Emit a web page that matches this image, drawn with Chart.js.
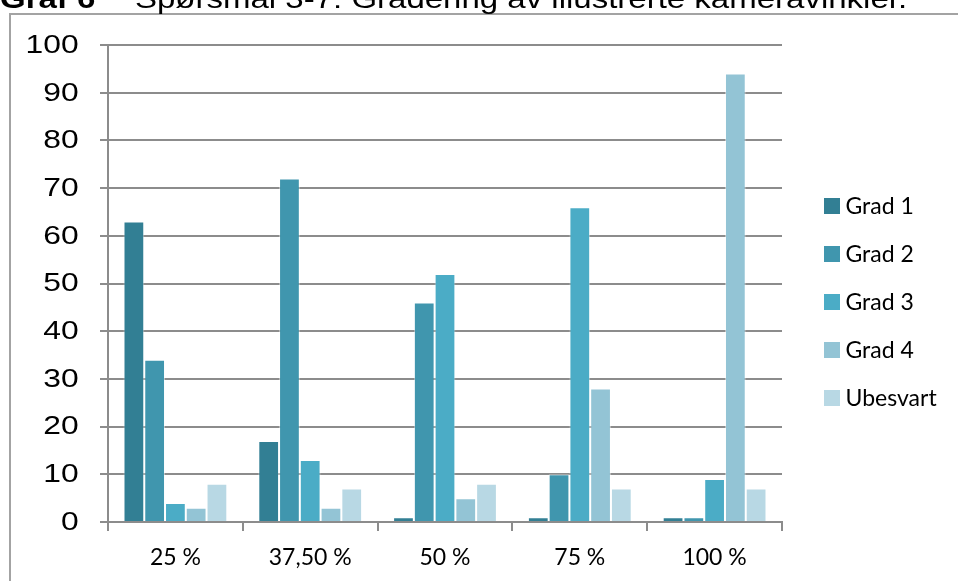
<!DOCTYPE html>
<html>
<head>
<meta charset="utf-8">
<script src="https://cdn.jsdelivr.net/npm/chart.js@4.4.1/dist/chart.umd.min.js"></script>
<style>
  html, body { margin: 0; padding: 0; background: #ffffff; overflow: hidden; }
  #wrap { position: relative; width: 958px; height: 581px; }
</style>
</head>
<body>
<div id="wrap"><canvas id="chart" width="958" height="581"></canvas></div>
<script>
// Camera-angle ratings per illustrated angle
const categories = ['25 %', '37,50 %', '50 %', '75 %', '100 %'];
const seriesNames = ['Grad 1', 'Grad 2', 'Grad 3', 'Grad 4', 'Ubesvart'];
const grad1    = [63, 17, 1, 1, 1];
const grad2    = [34, 72, 46, 10, 1];
const grad3    = [4, 13, 52, 66, 9];
const grad4    = [3, 3, 5, 28, 94];
const ubesvart = [8, 7, 8, 7, 7];
const yTickValues = [0, 10, 20, 30, 40, 50, 60, 70, 80, 90, 100];
const titleLead = 'Graf 6';
const titleText = 'Spørsmål 3-7: Gradering av illustrerte kameravinkler.';

const seriesValues = [grad1, grad2, grad3, grad4, ubesvart];
const seriesColors = ['#327f94', '#4096ae', '#4bacc6', '#93c4d5', '#b8d8e4'];
const gridGray = '#8c8c8c';

// Frame, heading, value labels and legend drawn around the plot
const decor = {
  id: 'decor',
  beforeDraw(chart) {
    const ctx = chart.ctx;
    ctx.save();
    ctx.fillStyle = '#ffffff';
    ctx.fillRect(0, 0, chart.width, chart.height);

    // outer frame (continues past the right and bottom edges)
    ctx.strokeStyle = '#a3a3a3';
    ctx.lineWidth = 2;
    ctx.beginPath();
    ctx.moveTo(10, chart.height + 5);
    ctx.lineTo(10, 14);
    ctx.lineTo(chart.width + 5, 14);
    ctx.stroke();

    // heading, wide Helvetica-style face, partly above the top edge
    ctx.fillStyle = '#000000';
    ctx.textBaseline = 'alphabetic';
    ctx.textAlign = 'left';
    ctx.save();
    ctx.translate(0, 8);
    ctx.scale(1.2, 1);
    ctx.font = 'bold 27.5px "Liberation Sans", Arial, sans-serif';
    ctx.fillText(titleLead, 0, 0);
    ctx.font = '27.5px "Liberation Sans", Arial, sans-serif';
    ctx.fillText(titleText, 135 / 1.2, 0);
    ctx.restore();
    ctx.restore();
  },
  afterDraw(chart) {
    const ctx = chart.ctx;
    const y = chart.scales.y;
    ctx.save();
    // value axis labels
    ctx.fillStyle = '#000000';
    ctx.font = '26.5px "Liberation Sans", Arial, sans-serif';
    ctx.textAlign = 'right';
    ctx.textBaseline = 'middle';
    yTickValues.forEach(v => {
      const py = y.getPixelForValue(v);
      ctx.save();
      ctx.translate(78.6, py + 0.5);
      ctx.scale(1.2, 1);
      ctx.fillText(String(v), 0, 0);
      ctx.restore();
    });

    // legend
    ctx.textAlign = 'left';
    ctx.textBaseline = 'alphabetic';
    ctx.font = '23px Lato, "Open Sans", sans-serif';
    seriesNames.forEach((name, i) => {
      const top = 198 + i * 48;
      ctx.fillStyle = seriesColors[i];
      ctx.fillRect(824, top, 16, 16);
      ctx.fillStyle = '#000000';
      ctx.fillText(name, 845.5, top + 16);
    });
    ctx.restore();
  }
};

const datasets = seriesNames.map((name, i) => ({
  label: name,
  data: seriesValues[i],
  backgroundColor: seriesColors[i],
  borderColor: 'rgba(255,255,255,0.45)',
  borderWidth: 1,
  categoryPercentage: 0.77,
  barPercentage: 1.0
}));

new Chart(document.getElementById('chart'), {
  type: 'bar',
  data: { labels: categories, datasets },
  options: {
    responsive: false,
    animation: false,
    devicePixelRatio: 1,
    layout: { padding: { top: 45, right: 176, bottom: 0, left: 0 } },
    plugins: {
      legend: { display: false },
      title: { display: false },
      tooltip: { enabled: false }
    },
    scales: {
      x: {
        offset: true,
        grid: {
          display: true,
          offset: true,
          drawOnChartArea: false,
          drawTicks: true,
          tickLength: 9,
          color: gridGray,
          lineWidth: 2
        },
        border: { display: true, color: gridGray, width: 2 },
        ticks: {
          color: '#000000',
          font: { family: 'Lato, "Open Sans", sans-serif', size: 23 },
          padding: 13,
          maxRotation: 0,
          autoSkip: false
        },
        afterFit(scale) { scale.height = 59; }
      },
      y: {
        min: 0,
        max: 100,
        afterBuildTicks(scale) {
          scale.ticks = yTickValues.map(v => ({ value: v }));
        },
        grid: {
          color: gridGray,
          lineWidth: 2,
          drawTicks: true,
          tickLength: 8
        },
        border: { display: true, color: gridGray, width: 2 },
        ticks: { display: false },
        afterFit(scale) { scale.width = 108; }
      }
    }
  },
  plugins: [decor]
});
</script>
</body>
</html>
